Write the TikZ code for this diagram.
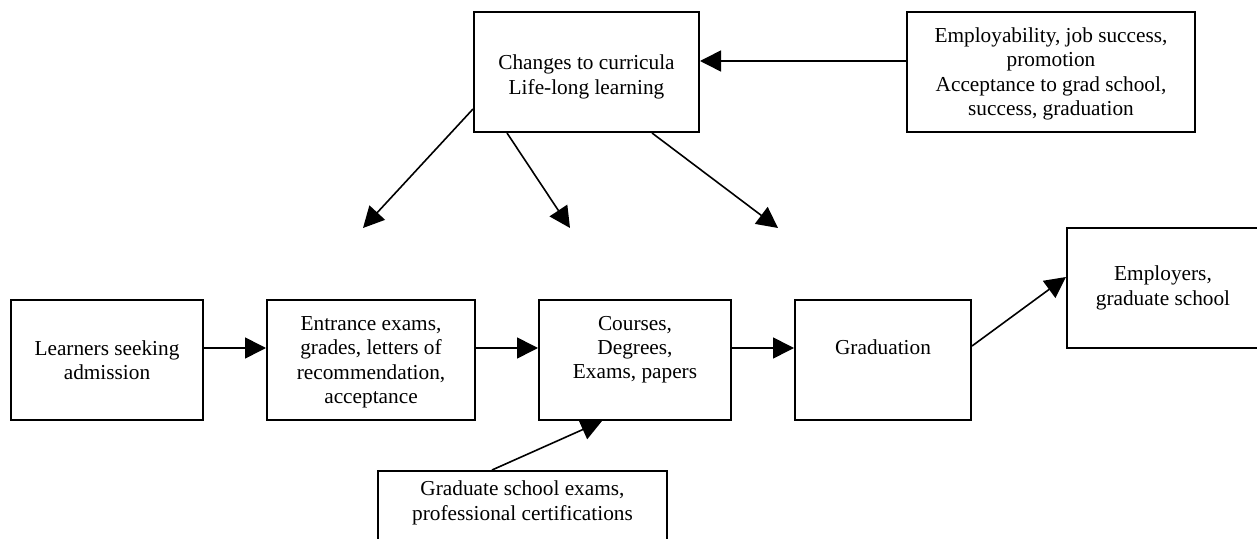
\documentclass[tikz,border=0pt]{standalone}
\usepackage{fontspec}
\setmainfont{Liberation Serif}
\usetikzlibrary{arrows.meta}
\newcommand{\lift}[1]{\rule{0pt}{#1}}
\begin{document}
\begin{tikzpicture}[x=0.5pt,y=-0.5pt,
  box/.style={draw=black, line width=1pt, rectangle, align=center,
    minimum height=60pt, inner sep=0pt,
    font=\fontsize{10.65}{12.2}\selectfont},
  conn/.style={draw=black, line width=0.8pt, -{Triangle[length=10.5pt,width=10.5pt]}}]
\useasboundingbox (0,0) rectangle (1257,539);
\clip (0,0) rectangle (1257,539);
% top row
\node[box, minimum width=112.5pt] (curr) at (586.5,72) {\lift{12.3pt}Changes to curricula\\Life-long learning};
\node[box, minimum width=144pt] (empl) at (1051,72) {\lift{9.3pt}Employability, job success,\\promotion\\Acceptance to grad school,\\success, graduation};
% main row
\node[box, minimum width=96pt] (learn) at (107,360) {Learners seeking\\admission};
\node[box, minimum width=104pt] (entr) at (371,360) {\lift{9.3pt}Entrance exams,\\grades, letters of\\recommendation,\\acceptance};
\node[box, minimum width=96pt] (cour) at (635,360) {\lift{10.3pt}Courses,\\Degrees,\\Exams, papers\\\strut};
\node[box, minimum width=88pt] (grad) at (883,360) {\lift{10.3pt}Graduation\\\strut};
\node[box, minimum width=96pt] (emp2) at (1163,288) {Employers,\\graduate school};
% bottom
\node[box, minimum width=144.5pt, minimum height=0pt, inner ysep=5pt, anchor=north] (gse) at (522.5,470) {Graduate school exams,\\professional certifications\\\strut};
% free ends
\coordinate (c1) at (363,228);
\coordinate (c2) at (570,228);
\coordinate (c3) at (778,228);
% connectors
\draw[conn] ([yshift=5.5pt]empl.west) -- ([yshift=5.5pt]curr.east);
\draw[conn] ([yshift=-18.5pt]curr.west) -- (c1);
\draw[conn] ([xshift=-39.75pt]curr.south) -- (c2);
\draw[conn] ([xshift=32.75pt]curr.south) -- (c3);
\draw[conn] ([yshift=6pt]learn.east) -- ([yshift=6pt]entr.west);
\draw[conn] ([yshift=6pt]entr.east) -- ([yshift=6pt]cour.west);
\draw[conn] ([yshift=6pt]cour.east) -- ([yshift=6pt]grad.west);
\draw[conn] ([yshift=7pt]grad.east) -- ([yshift=5.5pt]emp2.west);
\draw[conn] ([xshift=-15.25pt]gse.north) -- ([xshift=-16.5pt]cour.south);
\end{tikzpicture}
\end{document}
